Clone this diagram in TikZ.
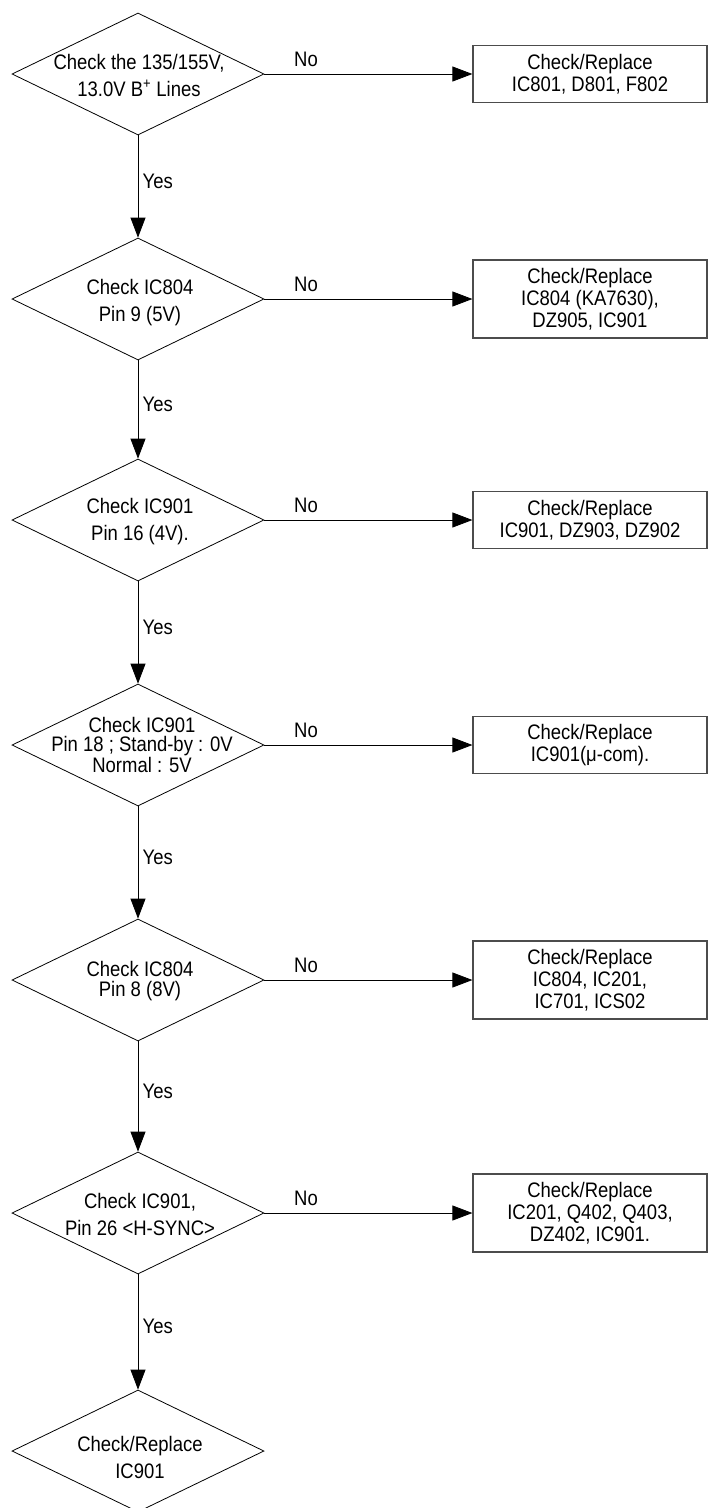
\documentclass[tikz,border=0pt]{standalone}
\usepackage{fontspec}
\setmainfont[FakeStretch=0.88]{Liberation Sans}
\usetikzlibrary{arrows.meta,shapes.geometric}

\tikzset{
  check/.style={draw, diamond, line width=0.8pt, minimum width=252pt, minimum height=122pt, inner sep=0pt},
  ctext/.style={align=center, inner sep=0pt, font=\fontsize{21}{27}\selectfont},
  tight/.style={font=\fontsize{21}{19.5}\selectfont},
  fix/.style={draw=black!70, rectangle, line width=1.2pt, minimum width=234pt, minimum height=57pt, inner ysep=8pt, align=center, font=\fontsize{21}{22}\selectfont},
  flow/.style={line width=0.8pt, -{Triangle[length=20pt,width=15pt]}},
  lbl/.style={font=\fontsize{21}{22}\selectfont},
}

\begin{document}
\begin{tikzpicture}[x=1pt, y=-1pt]
			%%%%% START %%%%%
			\useasboundingbox (0,0) rectangle (709,1508);
			
			\node[check] (chk1) at (138, 74) {};
			\node[check] (chk2) at (138, 299) {};
			\node[check] (chk3) at (138, 520) {};
			\node[check] (chk4) at (138, 745) {};
			\node[check] (chk5) at (138, 980) {};
			\node[check] (chk6) at (138, 1213) {};
			\node[check] (chk7) at (138, 1451) {};
			
			\node[ctext] (chk1t) at ([xshift=1pt, yshift=-1pt]chk1) {Check the 135/155V,\\13.0V B\textsuperscript{+} Lines};
			\node[ctext] (chk2t) at ([xshift=2pt, yshift=-4pt]chk2) {Check IC804\\Pin 9 (5V)};
			\node[ctext] (chk3t) at ([xshift=2pt, yshift=-2pt]chk3) {Check IC901\\Pin 16 (4V).};
			\node[ctext, tight] (chk4t) at ([xshift=4pt]chk4) {Check IC901\\Pin 18 ; Stand-by : 0V\\Normal : 5V};
			\node[ctext, tight] (chk5t) at ([xshift=2pt, yshift=-1pt]chk5) {Check IC804\\Pin 8 (8V)};
			\node[ctext] (chk6t) at ([xshift=2pt, yshift=-1pt]chk6) {Check IC901,\\Pin 26 <H-SYNC>};
			\node[ctext] (chk7t) at ([xshift=2pt, yshift=-6pt]chk7) {Check/Replace\\IC901};
			
			\node[fix] (rep1) at (590, 74) {Check/Replace\\IC801, D801, F802};
			\node[fix] (rep2) at (590, 299) {Check/Replace\\IC804 (KA7630),\\DZ905, IC901};
			\node[fix] (rep3) at (590, 520) {Check/Replace\\IC901, DZ903, DZ902};
			\node[fix] (rep4) at (590, 745) {Check/Replace\\IC901(μ-com).};
			\node[fix] (rep5) at (590, 980) {Check/Replace\\IC804, IC201,\\IC701, ICS02};
			\node[fix] (rep6) at (590, 1213) {Check/Replace\\IC201, Q402, Q403,\\DZ402, IC901.};
			
			\foreach \i in {1,...,6}{
				\draw[flow] (chk\i.east) -- node[lbl, pos=0.2, above=4pt] {No} (rep\i.west);
			}
			
			\foreach \i/\j in {1/2,2/3,3/4,4/5,5/6,6/7}{
				\draw[flow] (chk\i.south) -- node[lbl, pos=0.45, right=1pt] {Yes} (chk\j.north);
			}
			
			%%%%% END %%%%%
\end{tikzpicture}
\end{document}
